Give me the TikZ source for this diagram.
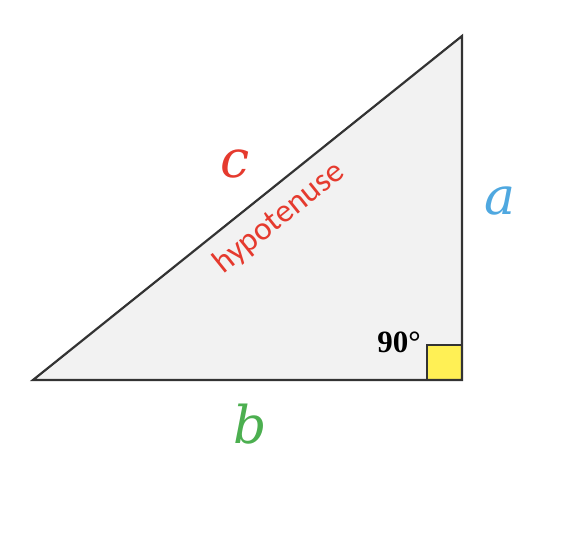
\documentclass[tikz,border=0pt]{standalone}
\usepackage{fontspec}
\setmainfont{Carlito}
\newfontfamily\serifbold{Liberation Serif}
\newfontfamily\letterfont{DejaVu Serif}
\definecolor{edge}{HTML}{333333}
\definecolor{tri}{HTML}{F2F2F2}
\definecolor{sq}{HTML}{FFF055}
\definecolor{cred}{HTML}{E53A2E}
\definecolor{ablue}{HTML}{4FA8E0}
\definecolor{bgreen}{HTML}{4CAF50}
\begin{document}
\begin{tikzpicture}[x=1pt,y=-1pt,
  side/.style={draw=edge,line width=2.2pt,line join=miter},
  letter/.style={font=\fontsize{52}{54}\selectfont\letterfont\itshape,inner sep=0pt}]
\useasboundingbox (0,0) rectangle (568,533);
\coordinate (A) at (33,380);
\coordinate (C) at (462,380);
\coordinate (B) at (462,36);
\fill[tri] (A) -- (C) -- (B) -- cycle;
\draw[side,fill=sq,line width=1.4pt] (427,345) rectangle (C);
\draw[side] (A) -- (C) -- (B) -- cycle;
\node[letter,text=cred] (c) at (235,164) {c};
\node[letter,text=ablue] (a) at (500,201) {a};
\node[letter,text=bgreen] (b) at (250,424) {b};
\node[text=cred,font=\fontsize{33}{35}\selectfont,rotate=38.7,inner sep=0pt] (h) at (279,218) {hypotenuse};
\node[font=\fontsize{31}{32}\selectfont\serifbold\bfseries,inner sep=0pt] (deg) at (399,342) {90°};
\end{tikzpicture}
\end{document}
